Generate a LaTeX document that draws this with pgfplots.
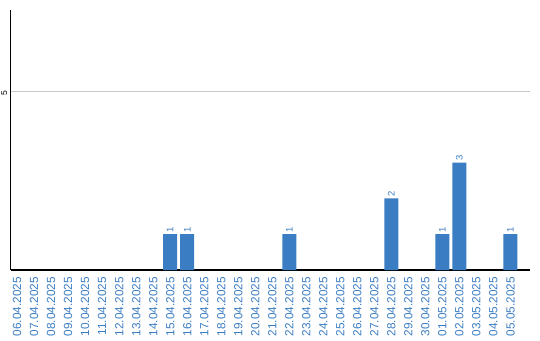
\documentclass[border=0pt]{standalone}
\usepackage{pgfplots}
\pgfplotsset{compat=1.18}
\usepackage{fontspec}
\setmainfont{Liberation Sans}
\definecolor{barblue}{RGB}{59,125,195}
\definecolor{gridgray}{RGB}{200,200,200}
\begin{document}
\begin{tikzpicture}
\begin{axis}[
  scale only axis,
  width=519.5pt, height=260pt,
  at={(0,0)}, anchor=south west,
  xmin=-0.39, xmax=30.15,
  ymin=0, ymax=7.26,
  axis lines*=left,
  axis line style={-, line width=1.2pt, black},
  ybar, bar width=14pt, bar shift=0pt,
  xtick={0,...,29},
  xticklabels={06.04.2025,07.04.2025,08.04.2025,09.04.2025,10.04.2025,11.04.2025,12.04.2025,13.04.2025,14.04.2025,15.04.2025,16.04.2025,17.04.2025,18.04.2025,19.04.2025,20.04.2025,21.04.2025,22.04.2025,23.04.2025,24.04.2025,25.04.2025,26.04.2025,27.04.2025,28.04.2025,29.04.2025,30.04.2025,01.05.2025,02.05.2025,03.05.2025,04.05.2025,05.05.2025},
  x tick label style={rotate=90, anchor=east, text=barblue, font=\fontsize{11.8}{12}\selectfont, inner sep=0pt},
  xticklabel shift=7pt,
  ytick={5},
  y tick label style={yshift=-2.5pt, rotate=90, anchor=south, font=\fontsize{8.5}{8.5}\selectfont, inner sep=0pt},
  yticklabel shift=3pt,
  /pgf/number format/assume math mode=true,
  major tick length=0pt,
  ymajorgrids,
  grid style={gridgray, line width=0.8pt},
  nodes near coords,
  every node near coord/.append style={rotate=90, anchor=west, text=barblue, font=\fontsize{9.5}{9.5}\selectfont, inner sep=1.5pt},
  clip=false,
]
\addplot[fill=barblue, draw=none] coordinates {
  (9,1) (10,1) (16,1) (22,2) (25,1) (26,3) (29,1)
};
\end{axis}
\pgfresetboundingbox
\path[use as bounding box] (-10.5pt,-70pt) rectangle (529.5pt,270pt);
\end{tikzpicture}
\end{document}
